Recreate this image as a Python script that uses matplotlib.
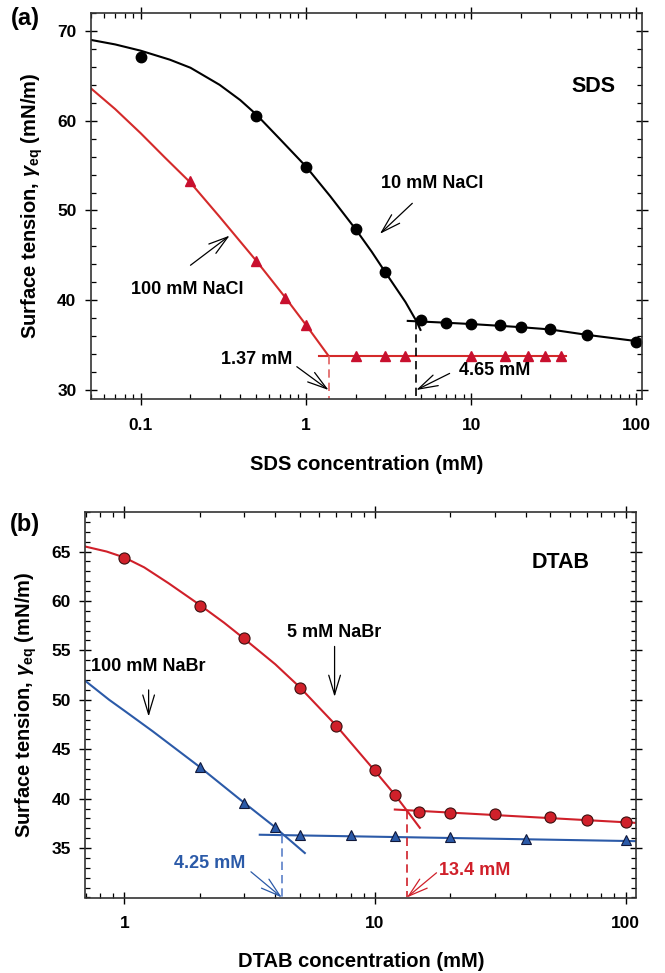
import matplotlib
matplotlib.use("Agg")
import matplotlib.pyplot as plt
from matplotlib.ticker import FixedLocator, LogLocator, MultipleLocator, FuncFormatter, NullFormatter

plt.rcParams['font.family'] = ['Liberation Sans', 'DejaVu Sans']
plt.rcParams['font.weight'] = 'bold'
plt.rcParams['mathtext.fontset'] = 'custom'
plt.rcParams['mathtext.bf'] = 'Liberation Sans:bold'
plt.rcParams['mathtext.it'] = 'Liberation Sans:italic:bold'
plt.rcParams['mathtext.rm'] = 'Liberation Sans:bold'

# --- (a) SDS ---
sds10_c = [0.1, 0.5, 1, 2, 3, 5, 7, 10, 15, 20, 30, 50, 100]
sds10_g = [67.1, 60.5, 54.9, 47.9, 43.2, 37.8, 37.5, 37.4, 37.2, 37.0, 36.8, 36.1, 35.4]
sds100_c = [0.2, 0.5, 0.75, 1.0, 2, 3, 4, 10, 16, 22, 28, 35]
sds100_g = [53.3, 44.4, 40.3, 37.2, 33.8, 33.8, 33.8, 33.8, 33.8, 33.8, 33.8, 33.8]

# fitted curves
fit10_c = [0.05, 0.07, 0.1, 0.15, 0.2, 0.3, 0.4, 0.5, 0.7, 1.0, 1.4, 2.0, 2.5, 3.0, 4.0, 4.65, 4.93]
fit10_g = [69.0, 68.5, 67.8, 66.8, 65.9, 64.0, 62.3, 60.7, 57.9, 54.9, 51.6, 47.9, 45.4, 43.2, 39.8, 37.7, 36.7]
post10_c = [4.13, 7, 10, 15, 20, 30, 50, 100, 109]
post10_g = [37.7, 37.5, 37.35, 37.15, 37.0, 36.75, 36.15, 35.45, 35.3]
fit100_c = [0.05, 0.07, 0.1, 0.14, 0.2, 0.3, 0.5, 0.75, 1.0, 1.37]
fit100_g = [63.6, 61.3, 58.6, 55.9, 53.1, 49.3, 44.4, 40.3, 37.25, 33.8]
post100_c = [1.2, 37.7]
post100_g = [33.8, 33.8]
cmc_a = [1.37, 4.65]

# --- (b) DTAB ---
dt5_c = [1, 2, 3, 5, 7, 10, 12, 15, 20, 30, 50, 70, 100]
dt5_g = [64.3, 59.5, 56.3, 51.2, 47.3, 42.9, 40.4, 38.7, 38.5, 38.4, 38.1, 37.8, 37.6]
dt100_c = [2, 3, 4, 5, 8, 12, 20, 40, 100]
dt100_g = [43.2, 39.6, 37.1, 36.3, 36.3, 36.2, 36.1, 35.95, 35.8]

fit5_c = [0.7, 0.85, 1.0, 1.2, 1.5, 2.0, 2.5, 3.0, 4.0, 5.0, 7.0, 10.0, 12.0, 13.4, 15.1]
fit5_g = [65.5, 65.0, 64.4, 63.4, 61.8, 59.6, 57.8, 56.2, 53.6, 51.3, 47.4, 42.8, 40.4, 38.8, 37.05]
post5_c = [12, 110]
post5_g = [38.9, 37.55]
fit100b_c = [0.7, 0.87, 1.0, 1.3, 2.0, 3.0, 4.0, 4.25, 5.25]
fit100b_g = [51.9, 50.0, 48.9, 46.8, 43.2, 39.6, 37.1, 36.5, 34.5]
post100b_c = [3.47, 110]
post100b_g = [36.35, 35.7]
cmc_b = [4.25, 13.4]

red_a = '#d42a2a'
red_b = '#d0202a'
blue_b = '#2b5aa8'

fig = plt.figure(figsize=(6.65, 9.73), dpi=100)
ax1 = fig.add_axes([91/665, 1-399/973, 551/665, 386/973])
ax2 = fig.add_axes([85.5/665, 1-897.5/973, 550.5/665, 385.5/973])

arrow = dict(arrowstyle='->,head_length=1.0,head_width=0.3', lw=0.9, color='black',
             shrinkA=0, shrinkB=0, mutation_scale=14)

def style(ax):
    ax.set_xscale('log')
    ax.xaxis.set_major_formatter(FuncFormatter(lambda v, p: '%g' % v))
    ax.xaxis.set_minor_locator(LogLocator(base=10, subs=range(2, 10)))
    ax.xaxis.set_minor_formatter(NullFormatter())
    ax.tick_params(which='major', direction='inout', length=9, width=1.0,
                   top=True, right=True, labelsize=12.5)
    ax.tick_params(axis='x', which='major', pad=9)
    ax.tick_params(axis='y', which='major', pad=6)
    ax.tick_params(which='minor', direction='in', length=3.5, width=0.9,
                   top=True, right=True)
    for s in ax.spines.values():
        s.set_linewidth(1.2)
        s.set_color('#333333')

ylab = r'Surface tension, $\mathit{\gamma}_{\mathbf{eq}}$ (mN/m)'

# ---- panel (a)
style(ax1)
ax1.plot(fit10_c, fit10_g, color='black', lw=1.5)
ax1.plot(post10_c, post10_g, color='black', lw=1.5)
ax1.plot(fit100_c, fit100_g, color=red_a, lw=1.5)
ax1.plot(post100_c, post100_g, color=red_a, lw=1.5)
ax1.plot(sds10_c, sds10_g, 'o', color='black', ms=7.5)
ax1.plot(sds100_c, sds100_g, '^', color='#c8102e', ms=7)
ax1.plot([cmc_a[0]] * 2, [33.8, 29], ls=(0, (5, 3)), color='#e06060', lw=1.2)
ax1.plot([cmc_a[1]] * 2, [37.7, 29], ls=(0, (5, 3)), color='black', lw=1.2)
ax1.set_xlim(0.05, 108)
ax1.set_ylim(29, 72)
ax1.xaxis.set_major_locator(FixedLocator([0.1, 1, 10, 100]))
ax1.yaxis.set_major_locator(MultipleLocator(10))
ax1.yaxis.set_minor_locator(MultipleLocator(2))
ax1.set_xlabel('SDS concentration (mM)', fontsize=14.5, fontweight='bold', labelpad=16)
ax1.set_ylabel(ylab, fontsize=14.5, fontweight='bold', labelpad=9)
ax1.text(55, 63.8, 'SDS', fontsize=15.5, ha='center', va='center')
ax1.text(5.8, 53.0, '10 mM NaCl', fontsize=13, ha='center', va='center')
ax1.annotate('', xy=(2.8, 47.4), xytext=(4.4, 50.8), arrowprops=arrow)
ax1.text(0.19, 41.2, '100 mM NaCl', fontsize=13, ha='center', va='center')
ax1.annotate('', xy=(0.345, 47.2), xytext=(0.2, 43.9), arrowprops=arrow)
ax1.text(0.5, 33.4, '1.37 mM', fontsize=13, ha='center', va='center')
ax1.annotate('', xy=(1.37, 30.0), xytext=(0.88, 32.6), arrowprops=arrow)
ax1.text(13.8, 32.2, '4.65 mM', fontsize=13, ha='center', va='center')
ax1.annotate('', xy=(4.65, 30.0), xytext=(7.4, 31.85), arrowprops=arrow)
fig.text(25/665, 1-18/973, '(a)', fontsize=17, ha='center', va='center')

# ---- panel (b)
style(ax2)
ax2.plot(fit5_c, fit5_g, color=red_b, lw=1.5)
ax2.plot(post5_c, post5_g, color=red_b, lw=1.5)
ax2.plot(fit100b_c, fit100b_g, color=blue_b, lw=1.5)
ax2.plot(post100b_c, post100b_g, color=blue_b, lw=1.5)
ax2.plot(dt5_c, dt5_g, 'o', color=red_b, mec='#3a1010', mew=0.8, ms=8)
ax2.plot(dt100_c, dt100_g, '^', color=blue_b, mec='#10183a', mew=0.8, ms=7)
ax2.plot([cmc_b[0]] * 2, [36.3, 30], ls=(0, (5, 3)), color='#5b80c8', lw=1.2)
ax2.plot([cmc_b[1]] * 2, [38.8, 30], ls=(0, (5, 3)), color=red_b, lw=1.2)
ax2.set_xlim(0.7, 110)
ax2.set_ylim(30, 69)
ax2.xaxis.set_major_locator(FixedLocator([1, 10, 100]))
ax2.yaxis.set_major_locator(FixedLocator([35, 40, 45, 50, 55, 60, 65]))
ax2.yaxis.set_minor_locator(MultipleLocator(1))
ax2.set_xlabel('DTAB concentration (mM)', fontsize=14.5, fontweight='bold', labelpad=15)
ax2.set_ylabel(ylab, fontsize=14.5, fontweight='bold', labelpad=9)
ax2.text(55, 63.9, 'DTAB', fontsize=15.5, ha='center', va='center')
ax2.text(6.9, 56.8, '5 mM NaBr', fontsize=13, ha='center', va='center')
ax2.annotate('', xy=(6.9, 50.3), xytext=(6.9, 55.4), arrowprops=arrow)
ax2.text(1.25, 53.4, '100 mM NaBr', fontsize=13, ha='center', va='center')
ax2.annotate('', xy=(1.25, 48.3), xytext=(1.25, 51.0), arrowprops=arrow)
ax2.text(2.2, 33.4, '4.25 mM', fontsize=13, ha='center', va='center', color=blue_b)
ax2.annotate('', xy=(4.25, 30.0), xytext=(3.2, 32.6),
             arrowprops=dict(arrow, color=blue_b))
ax2.text(25, 32.7, '13.4 mM', fontsize=13, ha='center', va='center', color=red_b)
ax2.annotate('', xy=(13.4, 30.0), xytext=(17.6, 32.5),
             arrowprops=dict(arrow, color=red_b))
fig.text(25/665, 1-525/973, '(b)', fontsize=17, ha='center', va='center')

fig.savefig('out.png', dpi=100)
